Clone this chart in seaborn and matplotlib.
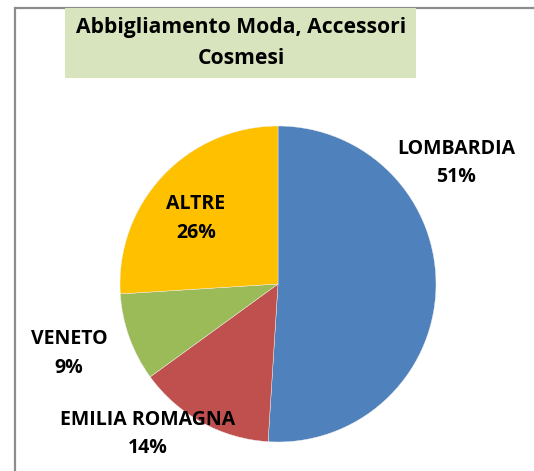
import seaborn as sns
import matplotlib.pyplot as plt
from matplotlib.patches import Rectangle

# Data
regions = ['LOMBARDIA', 'EMILIA ROMAGNA', 'VENETO', 'ALTRE']
shares = [51, 14, 9, 26]
colors = ['#4F81BD', '#C0504D', '#9BBB59', '#FFC000']
title = "Abbigliamento Moda, Accessori\nCosmesi"

sns.set_theme(style='white')
plt.rcParams['font.family'] = ['Open Sans', 'DejaVu Sans']

W, H = 534, 471
fig = plt.figure(figsize=(W / 100, H / 100), dpi=100)

# outer chart frame
fig.patches.append(Rectangle((15 / W, -0.05), 1.2, 1.05 - 8 / H, transform=fig.transFigure,
                             fill=False, edgecolor='#8c8c8c', linewidth=1.6))

# title box
fig.patches.append(Rectangle((65 / W, 1 - 78 / H), (416 - 65) / W, 70 / H,
                             transform=fig.transFigure, facecolor='#D7E4BD', edgecolor='none'))
fig.text(241 / W, 1 - 43 / H, title, ha='center', va='center', fontsize=15.2,
         fontweight='bold', color='black', linespacing=1.6)

# pie axes, centre (278, 284), radius 158 px
cx, cy, r = 278, 284, 158
ax = fig.add_axes([(cx - r) / W, (H - cy - r) / H, 2 * r / W, 2 * r / H])
ax.pie(shares, colors=sns.color_palette(colors), startangle=90, counterclock=False,
       wedgeprops=dict(linewidth=0.3, edgecolor='#f0f0f0'))
ax.set_xlim(-1, 1)
ax.set_ylim(-1, 1)
ax.axis('off')

# label positions in pie units
label_pos = [(1.127, 0.767), (-0.823, -0.95), (-1.323, -0.44), (-0.519, 0.415)]
for name, val, (x, y) in zip(regions, shares, label_pos):
    ax.text(x, y, f"{name}\n{val}%", ha='center', va='center', fontsize=14,
            fontweight='bold', color='black', linespacing=1.55, clip_on=False)

fig.savefig('out.png', dpi=100)
